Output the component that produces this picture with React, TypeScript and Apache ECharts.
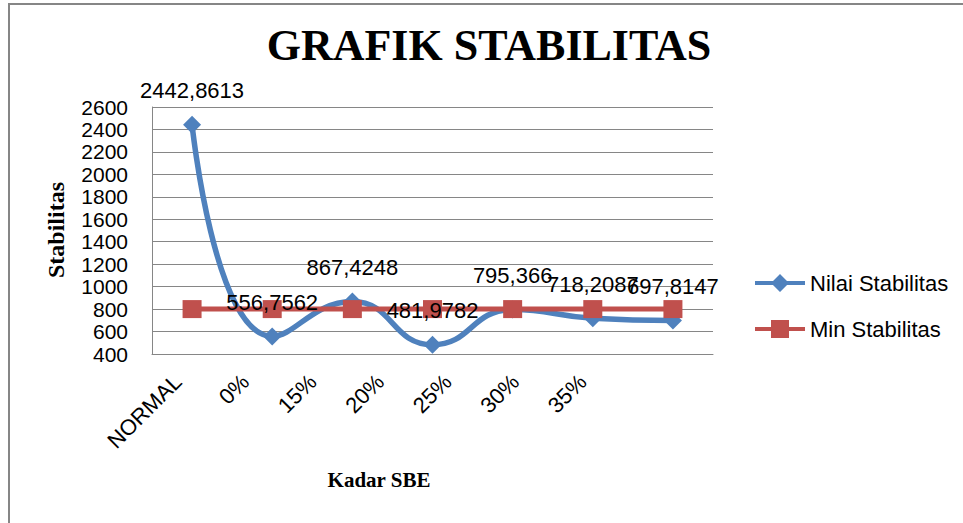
import React, { useEffect, useRef } from "react";
import * as echarts from "echarts";

const categories = ["NORMAL", "0%", "15%", "20%", "25%", "30%", "35%"];
const nilaiStabilitas = [2442.8613, 556.7562, 867.4248, 481.9782, 795.366, 718.2087, 697.8147];
const minStabilitas = [800, 800, 800, 800, 800, 800, 800];
const yMin = 400;
const yMax = 2600;
const yInterval = 200;

const SANS = "'Liberation Sans', Arial, sans-serif";
const SERIF = "'Liberation Serif', 'Times New Roman', serif";
const BLUE = "#4F81BD";
const RED = "#C0504D";

function fmt(v: number): string {
  return String(v).replace(".", ",");
}

const ICON_NILAI = "path://M0,7L50,7L50,11L0,11Z M25,0L34,9L25,18L16,9Z";
const ICON_MIN = "path://M0,7L50,7L50,11L0,11Z M16,0L34,0L34,18L16,18Z";

export default function App() {
  const ref = useRef<HTMLDivElement>(null);
  useEffect(() => {
    if (!ref.current) return;
    const chart = echarts.init(ref.current, undefined, { renderer: "svg" });
    chart.setOption({
      animation: false,
      backgroundColor: "#ffffff",
      graphic: [
        {
          type: "rect",
          shape: { x: 9, y: 4, width: 1000, height: 600 },
          style: { fill: "none", stroke: "#868686", lineWidth: 2 },
          silent: true,
        },
        {
          type: "text",
          x: 489,
          y: 45,
          style: {
            text: "GRAFIK STABILITAS",
            font: `bold 44px ${SERIF}`,
            fill: "#000",
            textAlign: "center",
            textVerticalAlign: "middle",
          },
        },
        {
          type: "text",
          x: 56,
          y: 230,
          rotation: Math.PI / 2,
          style: {
            text: "Stabilitas",
            font: `bold 24px ${SERIF}`,
            fill: "#000",
            textAlign: "center",
            textVerticalAlign: "middle",
          },
        },
        {
          type: "text",
          x: 379,
          y: 480,
          style: {
            text: "Kadar SBE",
            font: `bold 21px ${SERIF}`,
            fill: "#000",
            textAlign: "center",
            textVerticalAlign: "middle",
          },
        },
      ],
      legend: {
        orient: "vertical",
        left: 750,
        top: 267,
        itemWidth: 50,
        itemHeight: 18,
        itemGap: 24,
        textStyle: { fontFamily: SANS, fontSize: 22, color: "#000" },
        data: [
          { name: "Nilai Stabilitas", icon: ICON_NILAI, itemStyle: { color: BLUE } },
          { name: "Min Stabilitas", icon: ICON_MIN, itemStyle: { color: RED } },
        ],
      },
      grid: [
        { left: 152, top: 107, right: 250, bottom: 169, containLabel: false },
        { left: 144, width: 472.5, top: 107, bottom: 169, containLabel: false },
      ],
      xAxis: [
        {
          type: "category",
          gridIndex: 0,
          data: categories,
          boundaryGap: true,
          axisLine: { show: true, lineStyle: { color: "#868686", width: 1 } },
          axisTick: { show: false },
          axisLabel: { show: false },
        },
        {
          type: "category",
          gridIndex: 1,
          data: categories,
          boundaryGap: true,
          axisLine: { show: false },
          axisTick: { show: false },
          splitLine: { show: false },
          axisLabel: {
            rotate: 45,
            margin: 24,
            interval: 0,
            fontFamily: SANS,
            fontSize: 22,
            color: "#000",
          },
        },
      ],
      yAxis: [
        {
          type: "value",
          gridIndex: 0,
          min: yMin,
          max: yMax,
          interval: yInterval,
          axisLine: { show: true, lineStyle: { color: "#868686", width: 1 } },
          axisTick: { show: false },
          splitLine: { show: true, lineStyle: { color: "#868686", width: 1 } },
          axisLabel: {
            margin: 24,
            fontFamily: SANS,
            fontSize: 21,
            color: "#000",
            lineHeight: 20,
            formatter: (v: number) => String(v),
          },
        },
        {
          type: "value",
          gridIndex: 1,
          min: yMin,
          max: yMax,
          interval: yInterval,
          show: false,
          splitLine: { show: false },
        },
      ],
      series: [
        {
          name: "Nilai Stabilitas",
          type: "line",
          xAxisIndex: 0,
          yAxisIndex: 0,
          data: nilaiStabilitas,
          smooth: true,
          symbol: "diamond",
          symbolSize: 18,
          itemStyle: { color: BLUE },
          lineStyle: { color: BLUE, width: 5.5 },
          z: 2,
        },
        {
          name: "Min Stabilitas",
          type: "line",
          xAxisIndex: 0,
          yAxisIndex: 0,
          data: minStabilitas,
          symbol: "rect",
          symbolSize: [19, 18],
          itemStyle: { color: RED },
          lineStyle: { color: RED, width: 5 },
          z: 3,
        },
        {
          name: "Nilai Stabilitas labels",
          type: "line",
          xAxisIndex: 0,
          yAxisIndex: 0,
          data: nilaiStabilitas,
          symbol: "circle",
          symbolSize: 2,
          showSymbol: true,
          itemStyle: { color: "rgba(0,0,0,0)" },
          lineStyle: { color: "rgba(0,0,0,0)", width: 0 },
          silent: true,
          label: {
            show: true,
            position: "top",
            distance: 22,
            fontFamily: SANS,
            fontSize: 22,
            color: "#000",
            opacity: 1,
            formatter: (p: any) => fmt(p.value),
          },
          z: 5,
        },
      ],
    });
    return () => chart.dispose();
  }, []);
  return (
    <div
      ref={ref}
      style={{ position: "fixed", left: 0, top: 0, width: 963, height: 523 }}
    />
  );
}
